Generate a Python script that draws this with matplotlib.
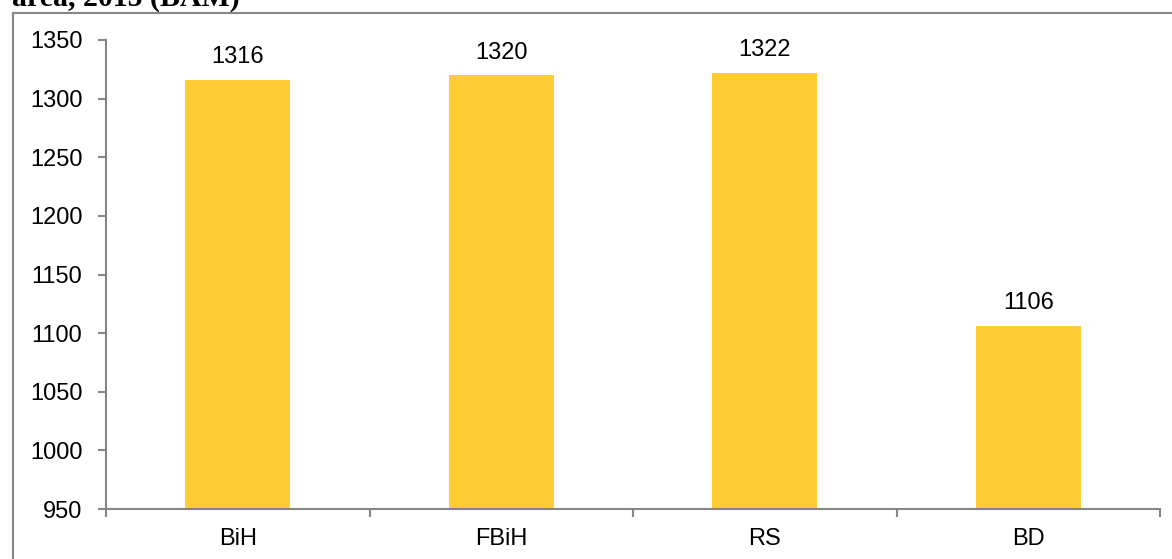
import matplotlib
matplotlib.use("Agg")
import matplotlib.pyplot as plt
from matplotlib.patches import Rectangle
from matplotlib.ticker import FixedLocator, MultipleLocator

categories = ["BiH", "FBiH", "RS", "BD"]
values = [1316, 1320, 1322, 1106]
y_min, y_max, y_step = 950, 1350, 50

W, H = 1172, 559
fig = plt.figure(figsize=(W / 100, H / 100), dpi=100)

bar_color = "#FFCC33"
axis_color = "#868686"
font = "Liberation Sans"
fsize = 17

# Outer frame around the chart area
fig.patches.append(Rectangle((13 / W, -0.2), 2.0, 1.2 - 13 / H,
                             transform=fig.transFigure, fill=False,
                             edgecolor=axis_color, linewidth=1.5))

# Title line, partly running off the top edge
fig.text(12 / W, 1 - 6 / H, "area, 2015 (BAM)", family="Liberation Serif",
         fontweight="bold", fontsize=21.5, ha="left", va="baseline")

ax = fig.add_axes([106 / W, 1 - 509 / H, (1160 - 106) / W, (509 - 40) / H])
x = list(range(len(categories)))
ax.bar(x, values, width=0.4, color=bar_color, zorder=2)
ax.set_xlim(-0.5, len(categories) - 0.5)
ax.set_ylim(y_min, y_max)

for xi, v in zip(x, values):
    ax.annotate(str(v), (xi, v), xytext=(0, 12), textcoords="offset points",
                ha="center", va="baseline", family=font, fontsize=fsize)

ax.yaxis.set_major_locator(MultipleLocator(y_step))
ax.set_xticks(x)
ax.set_xticklabels(categories)
ax.xaxis.set_minor_locator(FixedLocator([i - 0.5 for i in range(len(categories) + 1)]))
ax.tick_params(axis="x", which="major", length=0, pad=13.5)
ax.tick_params(axis="x", which="minor", length=6, width=1.5, color=axis_color,
               direction="out")
ax.tick_params(axis="y", length=6, width=1.5, color=axis_color, pad=11)
for lbl in ax.get_xticklabels() + ax.get_yticklabels():
    lbl.set_family(font)
    lbl.set_fontsize(fsize)

for side in ("top", "right"):
    ax.spines[side].set_visible(False)
for side in ("left", "bottom"):
    ax.spines[side].set_color(axis_color)
    ax.spines[side].set_linewidth(1.5)

fig.savefig("out.png", dpi=100)
